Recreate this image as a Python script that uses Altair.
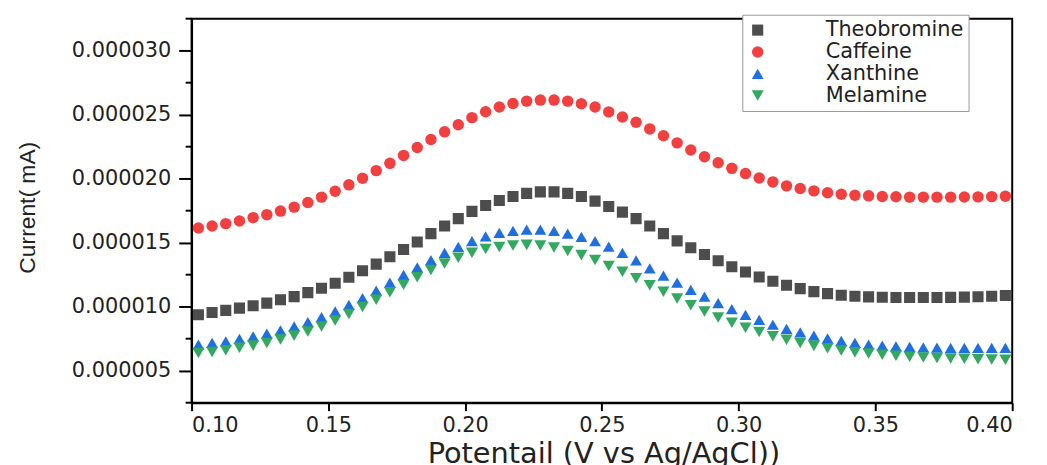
import altair as alt
import pandas as pd

# potential axis (V vs Ag/AgCl), scan step 5 mV
potential = [round(0.1025 + 0.005 * i, 4) for i in range(60)]

# current values in units of 1e-6 mA
theobromine = [9.37, 9.55, 9.71, 9.89, 10.07, 10.28, 10.54, 10.79, 11.10, 11.44,
               11.83, 12.30, 12.81, 13.33, 13.90, 14.47, 15.06, 15.71, 16.30, 16.88,
               17.45, 17.91, 18.30, 18.61, 18.85, 18.97, 18.97, 18.85, 18.61, 18.25,
               17.83, 17.39, 16.88, 16.30, 15.71, 15.14, 14.60, 14.08, 13.59, 13.12,
               12.71, 12.32, 11.99, 11.68, 11.41, 11.18, 11.02, 10.90, 10.82, 10.77,
               10.74, 10.72, 10.72, 10.72, 10.72, 10.73, 10.75, 10.78, 10.82, 10.87]
caffeine = [16.15, 16.30, 16.49, 16.69, 16.96, 17.19, 17.47, 17.78, 18.14, 18.56,
            19.02, 19.52, 20.03, 20.63, 21.20, 21.82, 22.44, 23.06, 23.66, 24.22,
            24.77, 25.23, 25.60, 25.88, 26.06, 26.14, 26.14, 26.06, 25.85, 25.60,
            25.22, 24.82, 24.41, 23.89, 23.35, 22.80, 22.24, 21.72, 21.25, 20.81,
            20.40, 20.06, 19.75, 19.44, 19.23, 19.05, 18.90, 18.79, 18.71, 18.66,
            18.61, 18.59, 18.56, 18.56, 18.56, 18.56, 18.57, 18.58, 18.60, 18.63]
xanthine = [7.04, 7.17, 7.30, 7.48, 7.69, 7.90, 8.15, 8.46, 8.80, 9.19,
            9.63, 10.15, 10.67, 11.26, 11.88, 12.48, 13.07, 13.64, 14.21, 14.67,
            15.12, 15.50, 15.76, 15.92, 16.02, 16.02, 15.92, 15.71, 15.45, 15.12,
            14.70, 14.20, 13.62, 13.00, 12.42, 11.88, 11.31, 10.79, 10.28, 9.81,
            9.37, 8.98, 8.59, 8.26, 8.00, 7.74, 7.53, 7.33, 7.17, 7.04,
            6.96, 6.91, 6.86, 6.83, 6.81, 6.79, 6.79, 6.78, 6.78, 6.78]
melamine = [6.38, 6.47, 6.60, 6.79, 6.96, 7.17, 7.43, 7.74, 8.07, 8.46,
            8.93, 9.43, 9.97, 10.54, 11.13, 11.72, 12.30, 12.86, 13.38, 13.82,
            14.21, 14.50, 14.67, 14.78, 14.83, 14.78, 14.63, 14.36, 14.03, 13.64,
            13.18, 12.73, 12.22, 11.68, 11.16, 10.64, 10.12, 9.63, 9.16, 8.75,
            8.36, 8.03, 7.69, 7.41, 7.17, 6.94, 6.75, 6.58, 6.45, 6.34,
            6.24, 6.16, 6.09, 6.04, 6.00, 5.96, 5.93, 5.90, 5.88, 5.86]

series_names = ["Theobromine", "Caffeine", "Xanthine", "Melamine"]
series_values = [theobromine, caffeine, xanthine, melamine]
colors = ["#4d4d4d", "#f23f3f", "#1e6fdf", "#33a860"]
shapes = ["square", "circle", "triangle-up", "triangle-down"]
marker_sizes = [125, 150, 175, 175]

x_ticks = [0.10, 0.15, 0.20, 0.25, 0.30, 0.35, 0.40]
y_ticks = [5e-6, 10e-6, 15e-6, 20e-6, 25e-6, 30e-6]
y_minor = [2.5e-6, 7.5e-6, 12.5e-6, 17.5e-6, 22.5e-6, 27.5e-6, 32.5e-6]
UNIT = 1e-6

rows = []
for name, vals in zip(series_names, series_values):
    for p, v in zip(potential, vals):
        rows.append({"potential": p, "current": v * UNIT, "series": name})
df = pd.DataFrame(rows)

xscale = alt.Scale(domain=[0.10, 0.40], nice=False, zero=False)
yscale = alt.Scale(domain=[2.5e-6, 32.5e-6], nice=False, zero=False)

legend = alt.Legend(
    title=None,
    orient="none", legendX=555, legendY=-4,
    labelFont="DejaVu Sans", labelFontSize=21, labelColor="#222", labelLimit=400,
    symbolSize=130, labelOffset=58,
    padding=5, rowPadding=0, strokeColor="#999",
    fillColor="white", symbolStrokeWidth=0,
)

points = alt.Chart(df).mark_point(filled=True, opacity=1, clip=True).encode(
    x=alt.X("potential:Q", scale=xscale,
            axis=alt.Axis(values=x_ticks, format=".2f", title="Potentail (V vs Ag/AgCl))",
                          tickSize=8, labelPadding=4, grid=False,
                          labelFont="DejaVu Sans", labelFontSize=21, labelColor="#222",
                          titleFont="DejaVu Sans", titleFontSize=29, titleFontWeight="normal",
                          titleColor="#222", titleX=415, titleY=51,
                          titleAlign="center", titleBaseline="middle")),
    y=alt.Y("current:Q", scale=yscale,
            axis=alt.Axis(values=y_ticks, format=".6f", title="Current( mA)",
                          tickSize=13, labelPadding=8, grid=False,
                          labelFont="DejaVu Sans", labelFontSize=21, labelColor="#222",
                          titleFont="Liberation Sans", titleFontSize=23, titleFontWeight="normal",
                          titleColor="#222", titleX=-165, titleY=190, titleAngle=270,
                          titleAlign="center", titleBaseline="middle")),
    color=alt.Color("series:N", sort=series_names,
                    scale=alt.Scale(domain=series_names, range=colors), legend=legend),
    shape=alt.Shape("series:N", sort=series_names,
                    scale=alt.Scale(domain=series_names, range=shapes), legend=legend),
    size=alt.Size("series:N", sort=series_names,
                  scale=alt.Scale(domain=series_names, range=marker_sizes), legend=None),
)

minor = alt.Chart(pd.DataFrame({"current": y_minor})).mark_rule(color="black", strokeWidth=2).encode(
    y=alt.Y("current:Q"),
    x=alt.value(-6),
    x2=alt.value(0),
)

chart = alt.layer(points, minor).properties(
    width=827, height=387,
    autosize=alt.AutoSizeParams(type="none"),
    padding={"left": 185, "top": 9, "right": 27, "bottom": 61},
).configure_view(
    stroke="black", strokeWidth=2
).configure_axis(
    domainColor="black", domainWidth=2, tickColor="black", tickWidth=2
)

chart.save("out.html", embed_options={"renderer": "svg", "actions": False})
